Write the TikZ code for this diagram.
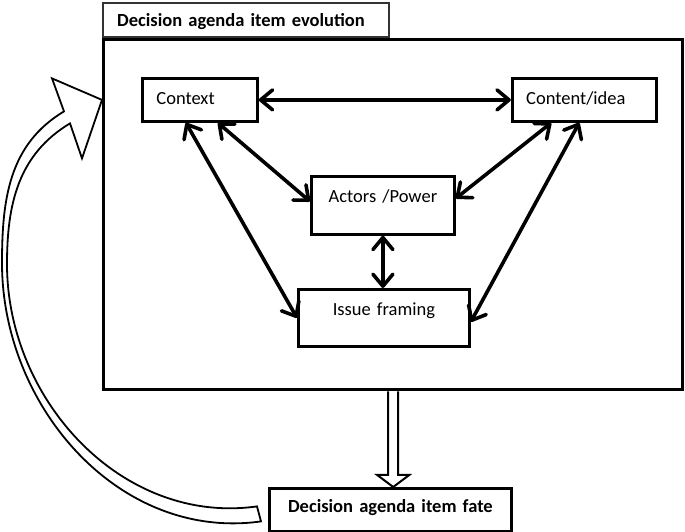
\documentclass[tikz,border=0pt]{standalone}
\usepackage{fontspec}
\setmainfont{Carlito}
\usetikzlibrary{positioning,arrows.meta,calc}

\begin{document}
\begin{tikzpicture}[
    x=1pt, y=1pt,
    every node/.style={font=\fontsize{18.5}{22}\selectfont},
    box/.style={
        rectangle, draw=black, line width=2.8pt, fill=white,
        inner xsep=14pt, inner ysep=4pt, text height=22pt
    },
    link/.style={
        {Straight Barb[length=12pt,width=20pt,round]}-{Straight Barb[length=12pt,width=20pt,round]},
        line width=3.6pt
    },
    hollow/.style={draw=black, fill=white, line width=2pt, line join=miter}
]
\useasboundingbox (0,0) rectangle (685,532);

\node[box, draw=black!80, line width=2.4pt, anchor=north west, text width=258pt, align=left,
    text height=19pt, text depth=7pt] (title) at (102,530) {\textbf{Decision agenda item evolution}};

\node[rectangle, draw=black, line width=3.4pt, anchor=north west,
    minimum width=579pt, minimum height=350pt] (evo) at (102,494) {};

\node[box, anchor=north west, text width=87pt, align=left, text depth=13pt] (ctx) at (141,455) {Context};
\node[box, right=252pt of ctx, text width=116pt, align=left, text depth=13pt] (cnt) {Content/idea};
\node[box, anchor=north west, text width=115pt, align=center, text depth=28pt] (act) at (310,357) {Actors /Power};
\node[box, anchor=north west, text width=143pt, align=center, text depth=27pt] (iss) at (297,244) {Issue framing};

\node[box, anchor=north west, text width=214pt, align=center,
    text height=20pt, text depth=15pt] (fate) at (268,45) {\textbf{Decision agenda item fate}};

\draw[link] (ctx.east) -- (cnt.west);
\draw[link] ([xshift=18pt]ctx.south) -- ([yshift=4pt]act.west);
\draw[link] ([xshift=-14pt]ctx.south) -- (iss.west);
\draw[link] ([xshift=-33pt]cnt.south) -- ([yshift=7pt]act.east);
\draw[link] ([xshift=-5pt]cnt.south) -- ([yshift=-4pt]iss.east);
\draw[link] (act.south) -- (act.south |- iss.north);

% evolution feeds the fate
\coordinate (ftop) at (evo.south |- fate.north);
\draw[hollow] ([xshift=-5pt]evo.south) -- ([shift={(-5,12)}]ftop) -- ([shift={(-16,12)}]ftop)
    -- (ftop) -- ([shift={(16,12)}]ftop) -- ([shift={(5,12)}]ftop) -- ([xshift=5pt]evo.south);

% fate loops back into the evolution
\coordinate (tip) at (evo.west |- ctx.center);
\draw[hollow, line width=1.8pt] (tip) -- ([shift={(-50,21.5)}]tip) -- ([shift={(-38,-11.5)}]tip)
    to[out=211,in=90] (2,269) to[out=270,in=188] ([shift={(-7,-11.5)}]fate.west)
    -- ([shift={(-11,3.5)}]fate.west)
    to[out=188,in=270] (7,268) to[out=90,in=211] ([shift={(-32,-23.5)}]tip)
    -- ([shift={(-20,-58.5)}]tip) -- cycle;

\end{tikzpicture}
\end{document}
